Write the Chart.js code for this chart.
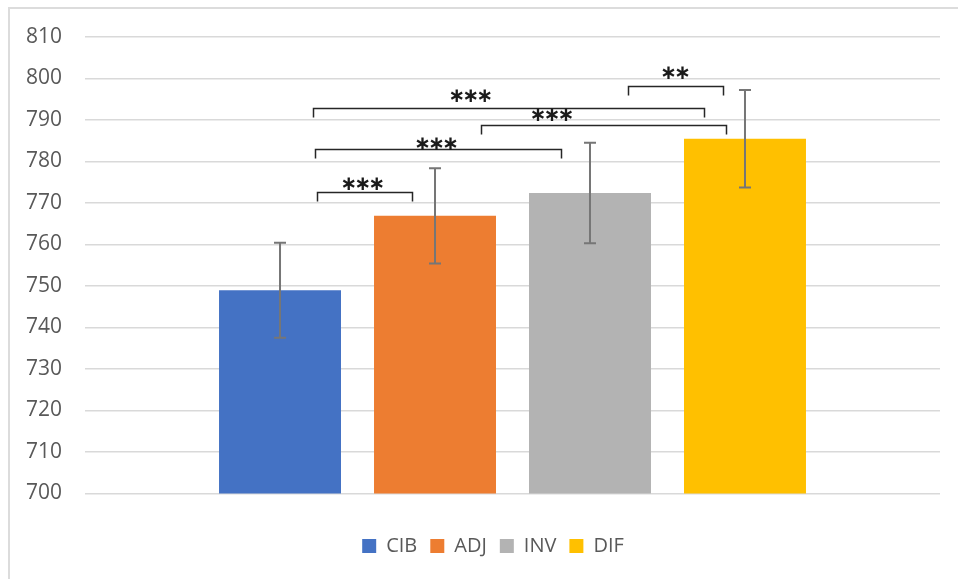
<!DOCTYPE html>
<html><head><meta charset="utf-8">
<script src="https://cdn.jsdelivr.net/npm/chart.js@4/dist/chart.umd.min.js"></script>
<style>
html,body{margin:0;padding:0;background:#fff;overflow:hidden;width:958px;height:579px}
#frame{position:absolute;left:8px;top:7px;width:1100px;height:1100px;border:2px solid #dcdcdc;box-sizing:border-box}
#wrap{position:absolute;left:0;top:0;width:958px;height:579px}
</style></head><body>
<div id="frame"></div>
<div id="wrap"><canvas id="c"></canvas></div>
<script>
// ---- data ----
const categories = [''];
const seriesNames = ['CIB', 'ADJ', 'INV', 'DIF'];
const meanValues = [749.0, 766.9, 772.4, 785.5];
const errorValues = [11.45, 11.5, 12.1, 11.75];
const yTicks = [700, 710, 720, 730, 740, 750, 760, 770, 780, 790, 800, 810];
// significance brackets: between series, level (y value), label
const bracketPairs = [[0, 1], [0, 2], [0, 3], [1, 3], [2, 3]];
const bracketLevels = [772.7, 782.9, 793.0, 788.9, 798.3];
const bracketLabels = ['***', '***', '***', '***', '**'];

// ---- styling ----
const seriesColors = ['#4472C4', '#ED7D31', '#B3B3B3', '#FFC000'];
// bracket end positions / label positions in "bar pitch" units from first bar centre
const bracketEnds = [[0.24, 0.85], [0.226, 1.813], [0.211, 2.735], [1.295, 2.877], [2.245, 2.856]];
const labelXs = [0.535, 1.011, 1.232, 1.755, 2.553];
const labelYs = [774.4, 784.0, 795.7, 791.0, 801.2];

const FONT = '"Open Sans", "Liberation Sans", sans-serif';

const annotPlugin = {
  id: 'annot',
  afterDatasetsDraw(chart) {
    const ctx = chart.ctx, ys = chart.scales.y;
    const xs = chart.data.datasets.map((d, i) => chart.getDatasetMeta(i).data[0].x);
    const pitch = xs[1] - xs[0];
    const px = u => xs[0] + u * pitch;
    ctx.save();
    // error bars
    ctx.strokeStyle = '#767676';
    ctx.lineWidth = 2;
    xs.forEach((x, i) => {
      const yt = ys.getPixelForValue(meanValues[i] + errorValues[i]);
      const yb = ys.getPixelForValue(meanValues[i] - errorValues[i]);
      ctx.beginPath();
      ctx.moveTo(x, yt); ctx.lineTo(x, yb);
      ctx.moveTo(x - 6, yt); ctx.lineTo(x + 6, yt);
      ctx.moveTo(x - 6, yb); ctx.lineTo(x + 6, yb);
      ctx.stroke();
    });
    // brackets
    ctx.strokeStyle = '#262626';
    ctx.lineWidth = 1.5;
    ctx.fillStyle = '#1a1a1a';
    ctx.font = 'bold 20px "DejaVu Sans"';
    ctx.textAlign = 'center';
    ctx.textBaseline = 'middle';
    bracketPairs.forEach((p, k) => {
      const xl = Math.round(px(bracketEnds[k][0])) + 0.5;
      const xr = Math.round(px(bracketEnds[k][1])) + 0.5;
      const yl = Math.round(ys.getPixelForValue(bracketLevels[k])) + 0.5;
      ctx.beginPath();
      ctx.moveTo(xl, yl + 9); ctx.lineTo(xl, yl); ctx.lineTo(xr, yl); ctx.lineTo(xr, yl + 9);
      ctx.stroke();
      const lx = px(labelXs[k]), ly = ys.getPixelForValue(labelYs[k]);
      const n = bracketLabels[k].length;
      for (let j = 0; j < n; j++) {
        ctx.fillText('\u2217', lx + (j - (n - 1) / 2) * 14, ly);
      }
    });
    ctx.restore();
  }
};

new Chart(document.getElementById('c'), {
  type: 'bar',
  data: {
    labels: categories,
    datasets: seriesNames.map((n, i) => ({
      label: n,
      data: [meanValues[i]],
      backgroundColor: seriesColors[i],
      borderWidth: 0,
      categoryPercentage: 0.7251,
      barPercentage: 0.787
    }))
  },
  options: {
    responsive: true,
    maintainAspectRatio: false,
    animation: false,
    layout: { padding: { left: 46, right: 18, top: 37, bottom: 13 } },
    plugins: {
      legend: {
        position: 'bottom',
        labels: {
          font: { family: FONT, size: 20 },
          color: '#595959',
          boxWidth: 14,
          boxHeight: 14,
          padding: 13
        }
      },
      tooltip: { enabled: false }
    },
    scales: {
      x: {
        grid: { display: false },
        border: { display: false },
        ticks: { display: false },
        afterFit(s) { s.height = 29.5; }
      },
      y: {
        min: yTicks[0],
        max: yTicks[yTicks.length - 1],
        afterBuildTicks(s) { s.ticks = yTicks.map(v => ({ value: v })); },
        afterFit(s) {
          s.width = 39;
          // let the tick labels extend left of the narrow axis box
          s._computeLabelArea = function () { return undefined; };
        },
        grid: { color: '#d9d9d9', lineWidth: 1.5, drawTicks: false },
        border: { display: false },
        ticks: {
          padding: 23,
          color: '#595959',
          font: { family: FONT, size: 21 }
        }
      }
    }
  },
  plugins: [annotPlugin]
});
</script>
</body></html>
